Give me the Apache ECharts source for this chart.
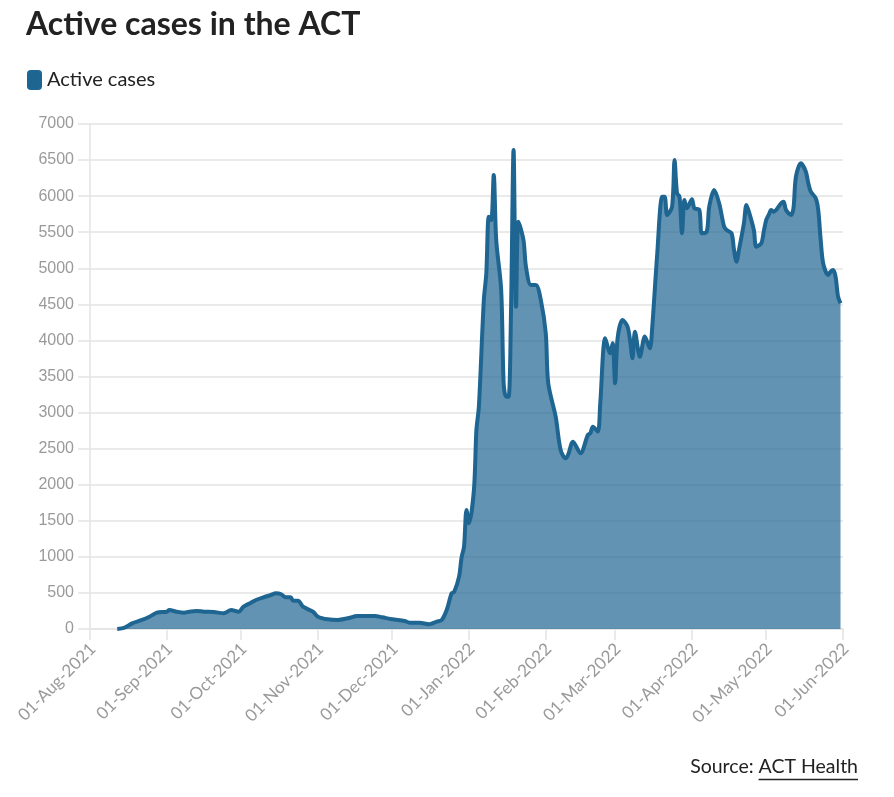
<!DOCTYPE html>
<html>
<head>
<meta charset="utf-8">
<script src="https://cdn.jsdelivr.net/npm/echarts@6/dist/echarts.min.js"></script>
<style>
  html, body { margin: 0; padding: 0; background: #fff; }
  #chart { width: 894px; height: 797px; }
</style>
</head>
<body>
<div id="chart"></div>
<script>
// ---- data ----
const dates = [
  '2021-08-12','2021-08-15','2021-08-18','2021-08-22','2021-08-25','2021-08-28',
  '2021-09-01','2021-09-02','2021-09-05','2021-09-08','2021-09-10','2021-09-13','2021-09-16','2021-09-20','2021-09-24','2021-09-27','2021-09-30',
  '2021-10-02','2021-10-05','2021-10-07','2021-10-10','2021-10-13','2021-10-15','2021-10-17','2021-10-19','2021-10-21','2021-10-22','2021-10-24','2021-10-26','2021-10-30',
  '2021-11-01','2021-11-05','2021-11-09','2021-11-13','2021-11-17','2021-11-21','2021-11-24','2021-11-27',
  '2021-12-01','2021-12-06','2021-12-08','2021-12-12','2021-12-16','2021-12-19','2021-12-21','2021-12-23','2021-12-25','2021-12-26','2021-12-28','2021-12-29','2021-12-30','2021-12-31',
  '2022-01-01','2022-01-03','2022-01-04','2022-01-05','2022-01-07','2022-01-08','2022-01-09','2022-01-10','2022-01-11','2022-01-12','2022-01-14','2022-01-15','2022-01-16','2022-01-17','2022-01-18','2022-01-19','2022-01-20','2022-01-21','2022-01-23','2022-01-24','2022-01-26','2022-01-28','2022-01-30',
  '2022-02-01','2022-02-02','2022-02-05','2022-02-07','2022-02-09','2022-02-10','2022-02-12','2022-02-15','2022-02-18','2022-02-19','2022-02-20','2022-02-22','2022-02-23','2022-02-25','2022-02-27','2022-02-28',
  '2022-03-01','2022-03-02','2022-03-04','2022-03-06','2022-03-07','2022-03-08','2022-03-09','2022-03-11','2022-03-13','2022-03-15','2022-03-16','2022-03-18','2022-03-20','2022-03-21','2022-03-22','2022-03-24','2022-03-25','2022-03-26','2022-03-27','2022-03-28','2022-03-29','2022-03-30',
  '2022-04-01','2022-04-02','2022-04-04','2022-04-05','2022-04-07','2022-04-08','2022-04-10','2022-04-12','2022-04-14','2022-04-15','2022-04-17','2022-04-18','2022-04-19','2022-04-20','2022-04-22','2022-04-23','2022-04-24','2022-04-26','2022-04-27','2022-04-29','2022-04-30',
  '2022-05-01','2022-05-02','2022-05-03','2022-05-04','2022-05-05','2022-05-07','2022-05-08','2022-05-09','2022-05-11','2022-05-12','2022-05-13','2022-05-15','2022-05-17','2022-05-18','2022-05-19','2022-05-21','2022-05-22','2022-05-23','2022-05-24','2022-05-26','2022-05-27','2022-05-28','2022-05-29','2022-05-30','2022-05-31'
];
const activeCases = [
  0,18,79,125,170,226,
  240,263,240,226,240,250,240,235,217,263,240,
  309,365,402,439,471,494,485,439,439,393,393,309,240,
  171,134,125,148,180,180,180,162,
  134,111,88,88,65,102,125,263,494,513,725,990,1141,1650,
  1465,1927,2759,3082,4561,4931,5716,5670,6293,5392,4699,3406,3220,3220,4468,6640,4468,5646,5392,5022,4769,4769,4561,
  4099,3406,2943,2481,2366,2412,2597,2435,2689,2713,2805,2736,3128,4030,3822,3961,
  3406,4030,4284,4191,4006,3752,4121,3775,4053,3891,4191,5200,5993,5993,5739,5854,6501,6039,5993,5485,5947,5832,
  5956,5832,5808,5485,5508,5854,6085,5901,5577,5531,5485,5254,5092,5254,5624,5877,5785,5531,5300,5346,5508,
  5670,5739,5808,5785,5808,5901,5924,5808,5739,5832,6270,6455,6339,6178,6062,5970,5808,5392,5069,4907,4953,4976,4884,4606,4515
];
const monthTicks = ['2021-08-01','2021-09-01','2021-10-01','2021-11-01','2021-12-01','2022-01-01','2022-02-01','2022-03-01','2022-04-01','2022-05-01','2022-06-01'];
const monthNames = ['Jan','Feb','Mar','Apr','May','Jun','Jul','Aug','Sep','Oct','Nov','Dec'];
const yTicks = { min: 0, max: 7000, interval: 500 };
const seriesName = 'Active cases';
const titleText = 'Active cases in the ACT';
const sourceLabel = 'Source: ';
const sourceName = 'ACT Health';

// ---- chart ----
function ts(s) { const p = s.split('-'); return Date.UTC(+p[0], +p[1] - 1, +p[2]); }
const seriesData = dates.map((d, i) => [ts(d), activeCases[i]]);
const tickValues = monthTicks.map(ts);
function fmt(v) {
  const d = new Date(v);
  const dd = String(d.getUTCDate()).padStart(2, '0');
  return dd + '-' + monthNames[d.getUTCMonth()] + '-' + d.getUTCFullYear();
}

const chart = echarts.init(document.getElementById('chart'), null, { renderer: 'canvas' });

const srcFont = '19.5px Lato';
const ctx = document.createElement('canvas').getContext('2d');
ctx.font = srcFont;
const wLabel = ctx.measureText(sourceLabel).width;
const wName = ctx.measureText(sourceName).width;
const srcRight = 858;
const srcLeft = srcRight - wLabel - wName;

const lineColor = '#1f6592';
const gridColor = '#e3e3e3';

chart.setOption({
  animation: false,
  title: {
    text: titleText,
    left: 26, top: 9, padding: 0,
    textStyle: { fontFamily: 'Lato', fontWeight: 'bold', fontSize: 32, color: '#222' }
  },
  legend: {
    show: true,
    left: 27, top: 70, padding: 0,
    icon: 'roundRect',
    itemWidth: 15, itemHeight: 20,
    itemGap: 10,
    textStyle: { fontFamily: 'Lato', fontSize: 20, color: '#222' },
    data: [{ name: seriesName, itemStyle: { color: lineColor, borderColor: lineColor } }]
  },
  grid: { left: 90, right: 51, top: 124, bottom: 168, containLabel: false, outerBoundsMode: 'none' },
  xAxis: {
    type: 'value',
    min: tickValues[0],
    max: tickValues[tickValues.length - 1],
    axisLine: { show: true, lineStyle: { color: gridColor, width: 1.5 } },
    axisTick: { show: true, length: 11, customValues: tickValues, lineStyle: { color: gridColor, width: 1.5 } },
    axisLabel: {
      customValues: tickValues,
      formatter: fmt,
      rotate: 45,
      margin: 20,
      color: '#9a9a9a',
      fontFamily: 'Lato',
      fontSize: 17,
      padding: [0, -4, 0, 0],
      hideOverlap: false,
      showMinLabel: true,
      showMaxLabel: true
    },
    splitLine: { show: false }
  },
  yAxis: {
    type: 'value',
    min: yTicks.min, max: yTicks.max, interval: yTicks.interval,
    axisLine: { show: true, lineStyle: { color: gridColor, width: 1.5 } },
    axisTick: { show: true, length: 12, lineStyle: { color: gridColor, width: 1.5 } },
    axisLabel: { color: '#9a9a9a', fontFamily: 'Liberation Sans', fontSize: 16, margin: 16, formatter: v => String(v) },
    splitLine: { show: true, lineStyle: { color: gridColor, width: 1.5 } }
  },
  series: [{
    name: seriesName,
    type: 'line',
    data: seriesData,
    smooth: 0.3,
    showSymbol: false,
    symbol: 'none',
    lineStyle: { color: lineColor, width: 4 },
    itemStyle: { color: lineColor },
    areaStyle: { color: lineColor, opacity: 0.7 },
    z: 3
  }],
  graphic: [
    {
      type: 'text', left: srcLeft, top: 757,
      style: { text: sourceLabel, font: srcFont, fill: '#222' }
    },
    {
      type: 'text', left: srcLeft + wLabel, top: 757,
      style: { text: sourceName, font: srcFont, fill: '#222' }
    },
    {
      type: 'line',
      shape: { x1: srcLeft + wLabel, y1: 779.5, x2: srcRight, y2: 779.5 },
      style: { stroke: '#222', lineWidth: 1.5 }
    }
  ]
});
</script>
</body>
</html>
